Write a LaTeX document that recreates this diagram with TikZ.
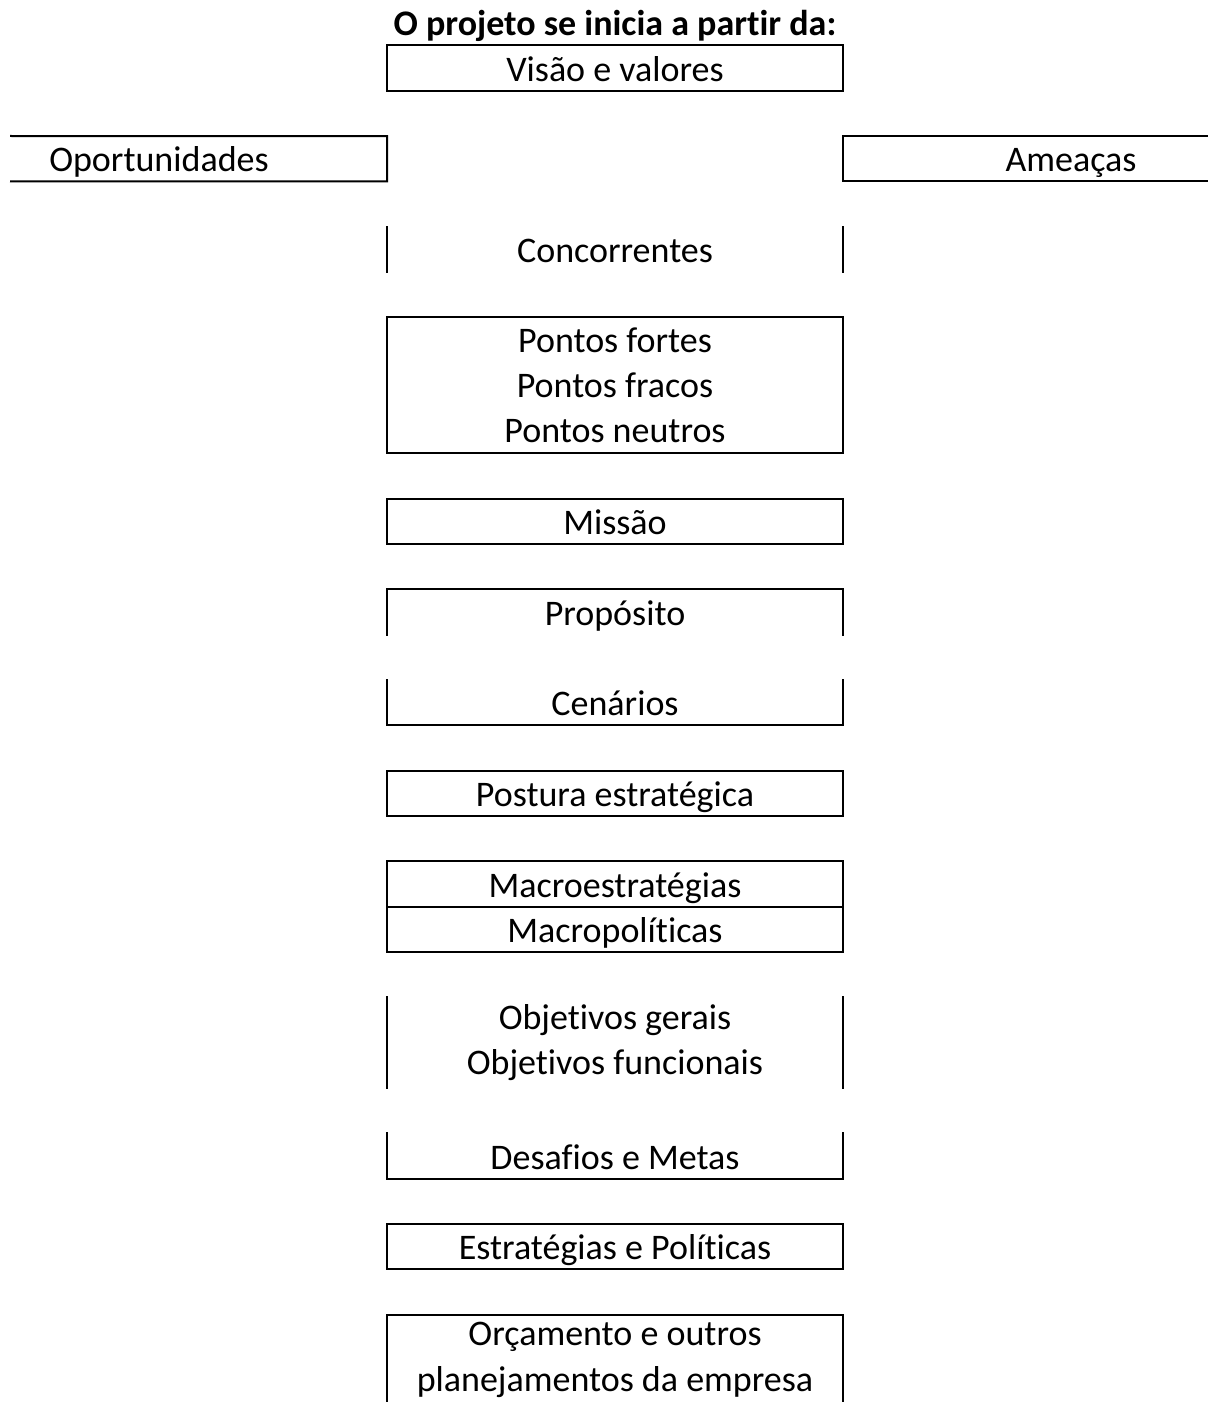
\documentclass[tikz,border=0pt]{standalone}
\usepackage{fontspec}
\setmainfont{Carlito}[Ligatures=NoCommon]
\usetikzlibrary{positioning}

\newcommand{\cellfont}{\fontsize{18}{22.67}\selectfont}

\begin{document}
\begin{tikzpicture}[
    x=0.5pt, y=-0.5pt,
    cellbase/.style={
        rectangle, inner sep=0pt, outer sep=0pt,
        minimum width=228pt, minimum height=22.67pt,
        align=center, font=\cellfont
    },
    cell/.style={cellbase, text height=13.2pt, text depth=0pt},
    cellT/.style={cellbase, minimum height=45.33pt},
    cellTT/.style={cellbase, minimum height=68pt},
    boxed/.style={draw, line width=1pt},
    border/.style={line width=1pt, line cap=rect}
]

\clip (0,0) rectangle (1208,1402);

%% ─── TITLE + FIRST ROW ───────────────────────────────────────────────────

\node[anchor=base, font=\cellfont\bfseries] (title) at (615,36)
    {O projeto se inicia a partir da:};

\node[cell, boxed] (visao) at (615,68)    {Visão e valores};

%% ─── SIDE CELLS (cut at the page edge) ──────────────────────────────────

\node[cell]        (oport)  at (159,158.7)  {Oportunidades};
\node[cell, boxed] (ameaca) at (1071,158.7) {Ameaças};

\coordinate (oportTL) at (11,136);
\coordinate (oportBL) at (11,181.3);
\draw[border] (oportTL) -- (oport.north east) -- (oport.south east)
    -- (oportBL);

%% ─── CENTRE COLUMN ──────────────────────────────────────────────────────

\node[cell]          (conc)   at (615,249.3)  {Concorrentes};
\node[cellTT, boxed] (pontos) at (615,385.3)
    {Pontos fortes\\Pontos fracos\\Pontos neutros};
\node[cell, boxed]   (missao) at (615,521.3)  {Missão};
\node[cell]          (prop)   at (615,612)    {Propósito};
\node[cell]          (cen)    at (615,702.6)  {Cenários};
\node[cell, boxed]   (post)   at (615,793.3)  {Postura estratégica};
\node[cell, boxed]   (macroe) at (615,884)    {Macroestratégias};
\node[cell, boxed]   (macrop) at (615,929.3)  {Macropolíticas};
\node[cellT]         (obj)    at (615,1042.7)
    {Objetivos gerais\\Objetivos funcionais};
\node[cell]          (desaf)  at (615,1156)   {Desafios e Metas};
\node[cell, boxed]   (estr)   at (615,1246.6) {Estratégias e Políticas};
\node[cellT, boxed]  (orc)    at (615,1360)
    {Orçamento e outros\\planejamentos da empresa};

%% ─── OPEN BORDERS ───────────────────────────────────────────────────────

% sides only
\draw[border] (conc.north west) -- (conc.south west);
\draw[border] (conc.north east) -- (conc.south east);
\draw[border] (obj.north west)  -- (obj.south west);
\draw[border] (obj.north east)  -- (obj.south east);

% open at the bottom
\draw[border] (prop.south west) |- (prop.north east) -- (prop.south east);

% open at the top
\draw[border] (cen.north west)   |- (cen.south east)   -- (cen.north east);
\draw[border] (desaf.north west) |- (desaf.south east) -- (desaf.north east);

\end{tikzpicture}
\end{document}
